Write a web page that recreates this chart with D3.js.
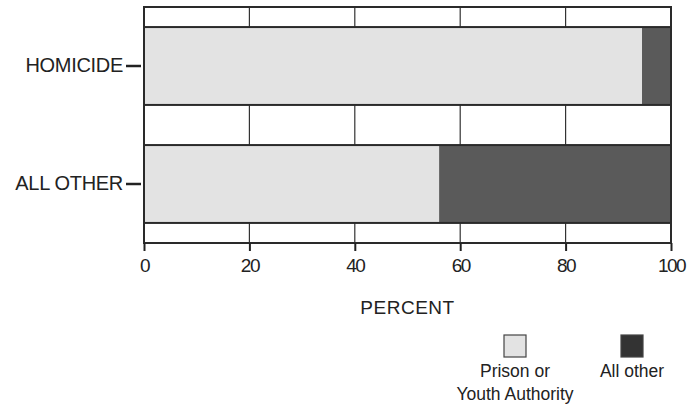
<!DOCTYPE html>
<html>
<head>
<meta charset="utf-8">
<script src="https://cdn.jsdelivr.net/npm/d3@7"></script>
<style>
  body { margin: 0; background: #fff; }
  svg text { font-family: "Liberation Sans", Arial, sans-serif; fill: #222; }
</style>
</head>
<body>
<div id="chart"></div>
<script>
// data
var categories  = ['HOMICIDE', 'ALL OTHER'];
var seriesNames = ['Prison or Youth Authority', 'All other'];
var prisonPct   = [94.5, 56];
var otherPct    = [5.5, 44];
var xTicks      = [0, 20, 40, 60, 80, 100];

var width = 688, height = 408;
var margin = { top: 7, right: 17, bottom: 165, left: 144 };
var innerW = 671 - margin.left;
var innerH = 243 - margin.top;

var svg = d3.select('#chart').append('svg')
            .attr('width', width)
            .attr('height', height);

var g = svg.append('g')
           .attr('transform', 'translate(' + margin.left + ',' + margin.top + ')');

var xScale = d3.scaleLinear().domain([0, 100]).range([0, innerW]);
var yScale = d3.scaleBand().domain(categories).range([0, innerH])
               .paddingInner(0.34).paddingOuter(0.17);

var colors = ['#e3e3e3', '#5a5a5a'];

// vertical grid lines
g.selectAll('.grid')
 .data(xTicks.slice(1, -1))
 .enter().append('line')
 .attr('x1', function(d) { return xScale(d); })
 .attr('x2', function(d) { return xScale(d); })
 .attr('y1', 0).attr('y2', innerH)
 .attr('stroke', '#333').attr('stroke-width', 1.2);

// stacked bars
var stackData = categories.map(function(c, i) {
    return { cat: c, parts: [ { x0: 0, x1: prisonPct[i] },
                              { x0: prisonPct[i], x1: prisonPct[i] + otherPct[i] } ] };
});

stackData.forEach(function(d) {
    d.parts.forEach(function(p, j) {
        g.append('rect')
         .attr('x', xScale(p.x0))
         .attr('y', yScale(d.cat))
         .attr('width', xScale(p.x1) - xScale(p.x0))
         .attr('height', yScale.bandwidth())
         .attr('fill', colors[j]);
    });
    g.append('rect')
     .attr('x', 0)
     .attr('y', yScale(d.cat))
     .attr('width', innerW)
     .attr('height', yScale.bandwidth())
     .attr('fill', 'none')
     .attr('stroke', '#2a2a2a').attr('stroke-width', 2);
});

// frame
g.append('rect')
 .attr('x', 0).attr('y', 0)
 .attr('width', innerW).attr('height', innerH)
 .attr('fill', 'none')
 .attr('stroke', '#2a2a2a').attr('stroke-width', 2);

// x axis
var xAxis = d3.axisBottom(xScale).tickValues(xTicks).tickSize(8).tickPadding(8)
              .tickFormat(d3.format('d'));
var xg = g.append('g')
          .attr('transform', 'translate(0,' + innerH + ')')
          .call(xAxis);
xg.select('.domain').remove();
xg.selectAll('line').attr('stroke', '#222').attr('stroke-width', 2);
xg.selectAll('text').style('font-size', '19px').attr('fill', '#222')
  .style('letter-spacing', '-1.5px');

// y axis
var yAxis = d3.axisLeft(yScale).tickSize(18).tickPadding(3);
var yg = g.append('g').call(yAxis);
yg.select('.domain').remove();
yg.selectAll('line').attr('stroke', '#222').attr('stroke-width', 2.5)
  .attr('x2', -18).attr('x1', -3);
yg.selectAll('text').style('font-size', '20px').attr('fill', '#222')
  .style('letter-spacing', '-0.3px');

// axis title
svg.append('text')
   .attr('x', margin.left + innerW / 2)
   .attr('y', 314)
   .attr('text-anchor', 'middle')
   .style('font-size', '19px')
   .style('letter-spacing', '0.5px')
   .text('PERCENT');

// legend
var legendItems = [
    { lines: ['Prison or', 'Youth Authority'], cx: 515, fill: '#e3e3e3' },
    { lines: ['All other'], cx: 632, fill: '#333333' }
];
legendItems.forEach(function(d) {
    svg.append('rect')
       .attr('x', d.cx - 11).attr('y', 335)
       .attr('width', 22).attr('height', 22)
       .attr('fill', d.fill)
       .attr('stroke', '#444').attr('stroke-width', 1.2);
    d.lines.forEach(function(t, k) {
        svg.append('text')
           .attr('x', d.cx)
           .attr('y', 377 + k * 23)
           .attr('text-anchor', 'middle')
           .style('font-size', '17.5px')
           .text(t);
    });
});
</script>
</body>
</html>
